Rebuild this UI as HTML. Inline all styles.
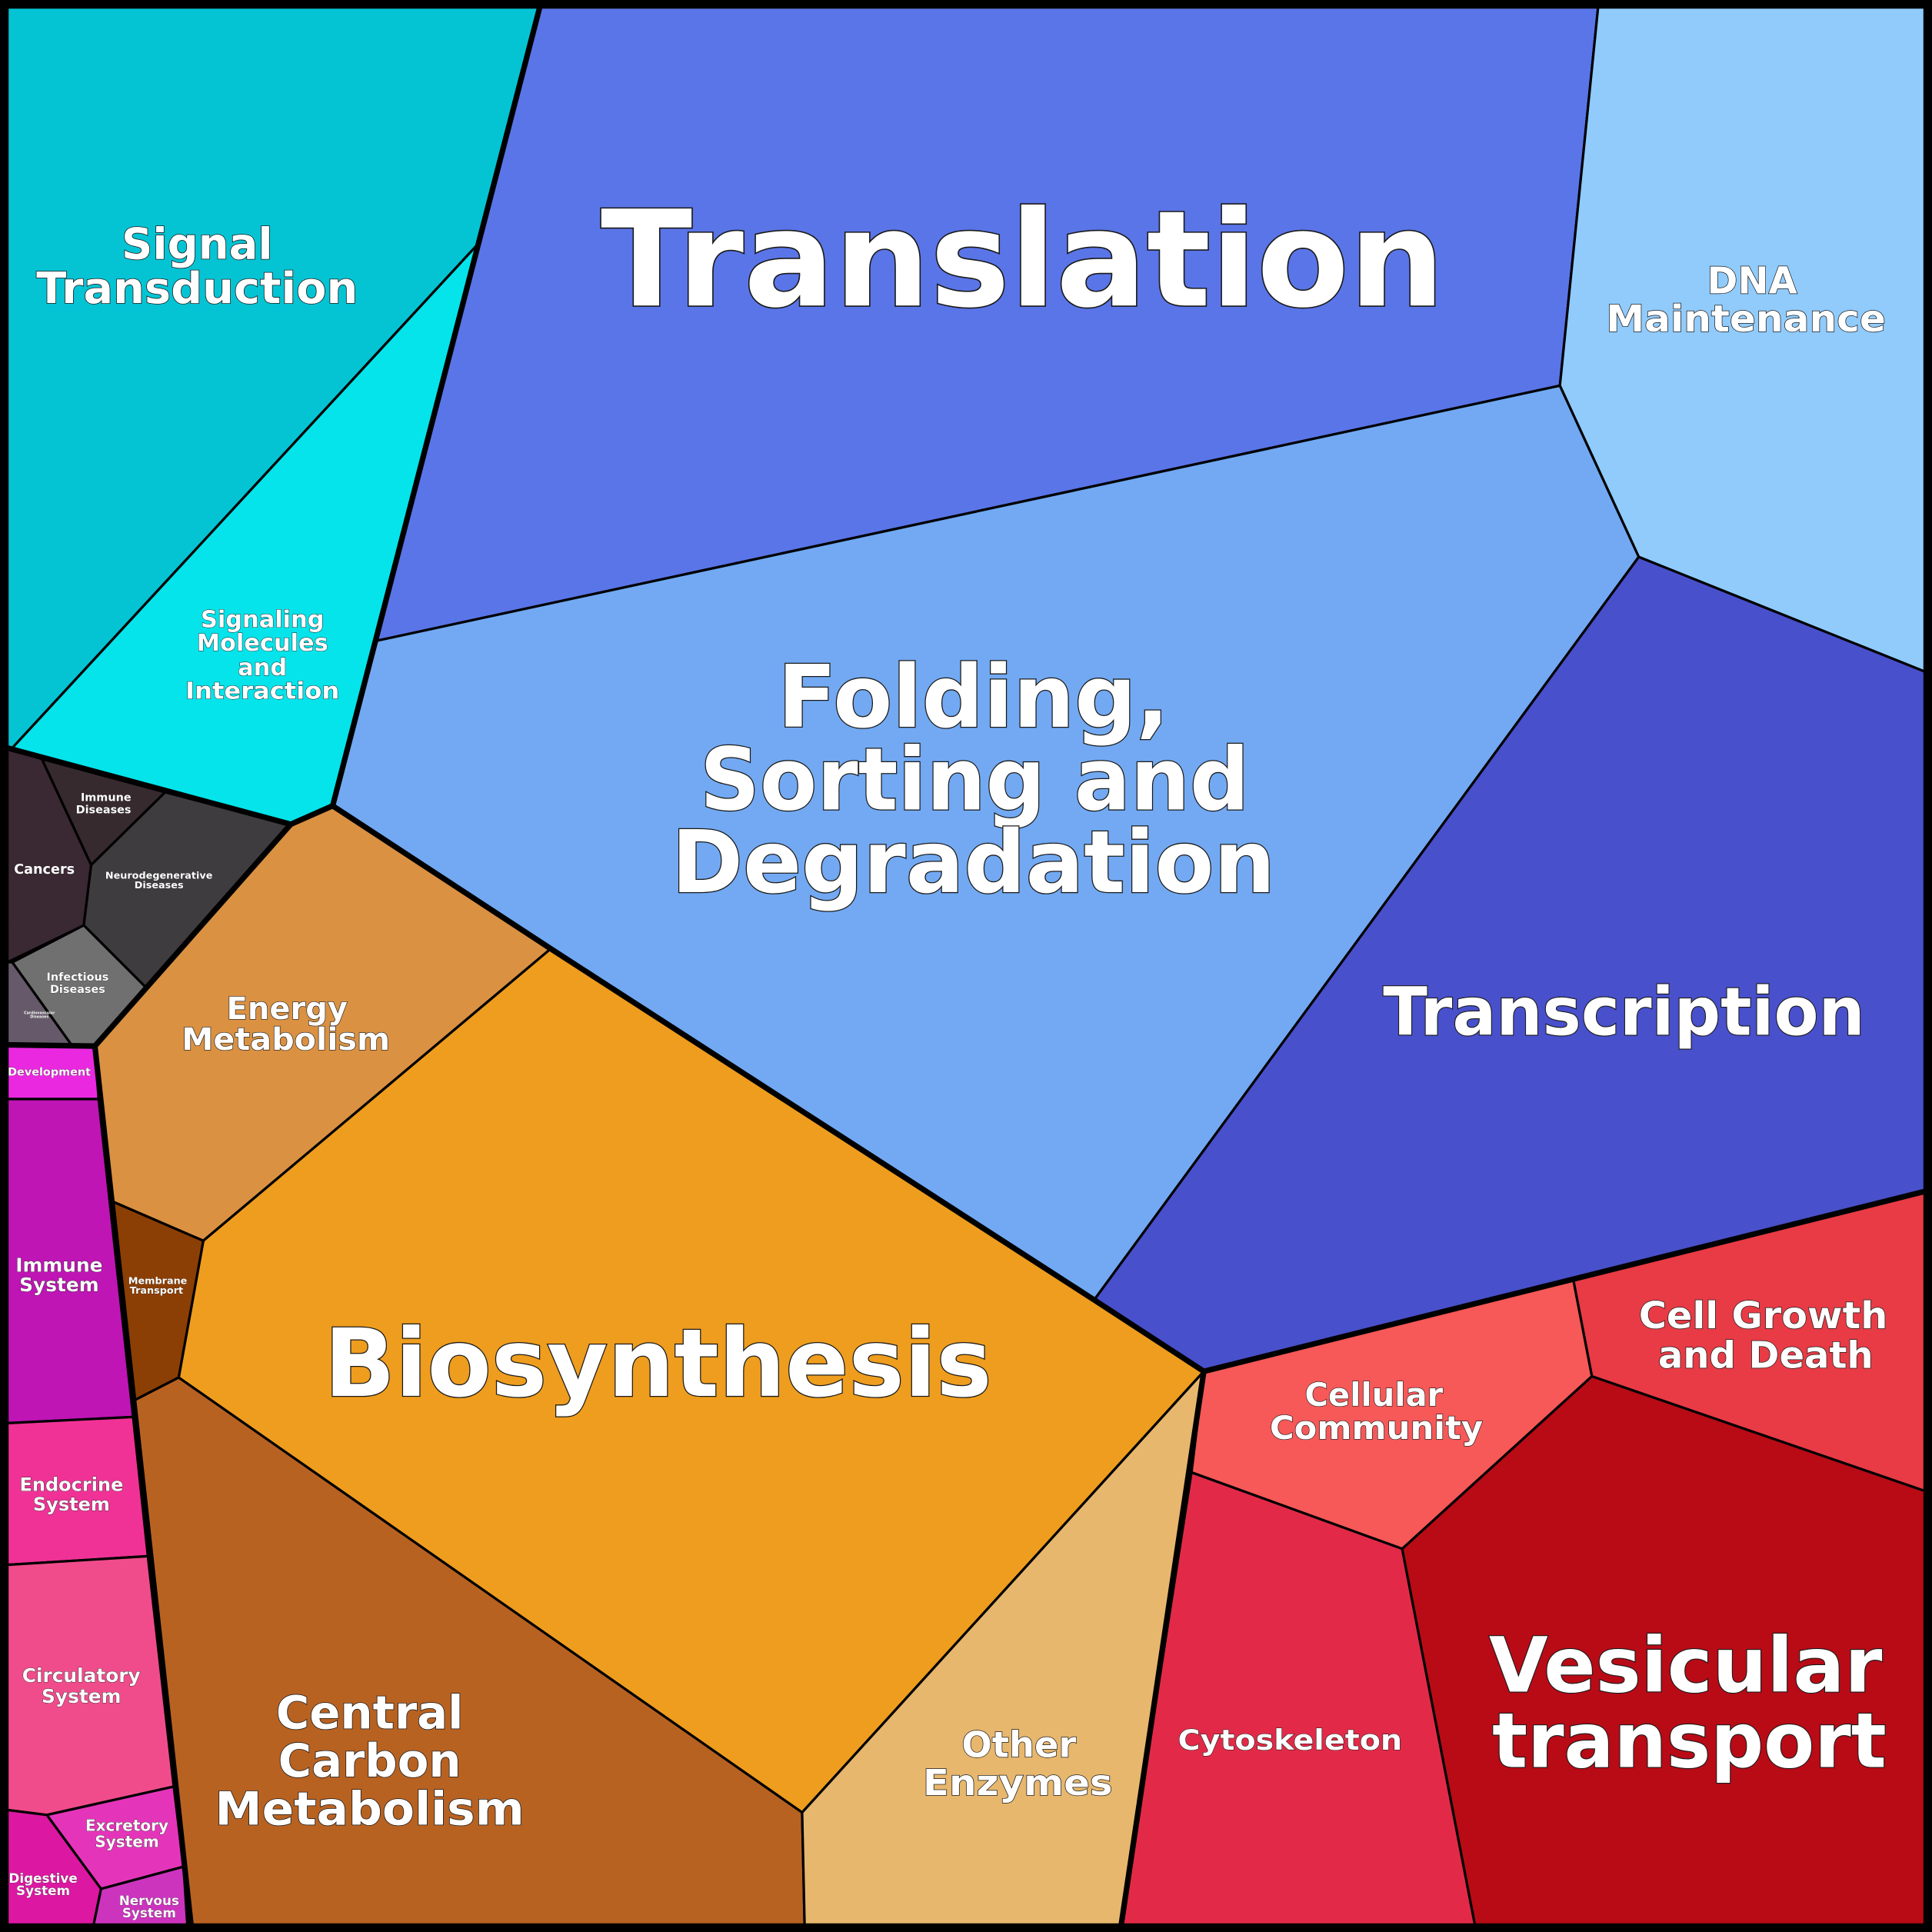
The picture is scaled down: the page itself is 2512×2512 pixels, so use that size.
<!DOCTYPE html>
<html><head><meta charset="utf-8"><style>
html,body{margin:0;padding:0;background:#000;}
svg{display:block;}
text{font-family:"DejaVu Sans","Liberation Sans",sans-serif;font-weight:bold;fill:#fff;stroke:#1a1a1a;paint-order:stroke;text-anchor:middle;}
</style></head><body>
<svg width="2512" height="2512" viewBox="0 0 1568 1568" xmlns="http://www.w3.org/2000/svg">
<rect x="0" y="0" width="1568" height="1568" fill="#000"/>
<g stroke="#000" stroke-width="2" stroke-linejoin="round">
<polygon fill="#04c4d4" points="6,6 438,6 388,198 10,607 6,607"/>
<polygon fill="#04e4ea" points="388,198 270,654 236,669 10,607"/>
<polygon fill="#5a75e8" points="438,6 1297,6 1266,313 306,520 388,198"/>
<polygon fill="#90cbfc" points="1297,6 1562,6 1562,545 1330,452 1266,313"/>
<polygon fill="#72a9f2" points="306,520 1266,313 1330,452 888,1055 447,770 270,654"/>
<polygon fill="#4850cb" points="1330,452 1562,545 1562,967 977,1113 888,1055"/>
<polygon fill="#da9142" points="270,654 447,770 165,1007 91,975 77,849 236,669"/>
<polygon fill="#ee9d1e" points="447,770 888,1055 977,1113 651,1471 145,1118 165,1007"/>
<polygon fill="#8c3f04" points="91,975 165,1007 145,1118 108,1137"/>
<polygon fill="#b86222" points="108,1137 145,1118 651,1471 653,1562 155,1562"/>
<polygon fill="#e7b76e" points="651,1471 977,1113 967,1195 910,1562 653,1562"/>
<polygon fill="#f75858" points="977,1113 1277,1039 1292,1117 1138,1257 967,1195"/>
<polygon fill="#e83b45" points="1277,1039 1562,967 1562,1210 1292,1117"/>
<polygon fill="#e22a48" points="967,1195 1138,1257 1197,1562 910,1562"/>
<polygon fill="#b80b16" points="1138,1257 1292,1117 1562,1210 1562,1562 1197,1562"/>
<polygon fill="#3a2832" points="6,607 34,616 74,702 68,751 6,781"/>
<polygon fill="#372a2e" points="34,616 134,643 74,702"/>
<polygon fill="#3e3c3e" points="134,643 236,669 118,801 68,751 74,702"/>
<polygon fill="#707070" points="68,751 118,801 77,849 58,848 10,781"/>
<polygon fill="#665a6a" points="6,781 10,781 58,848 6,848"/>
<polygon fill="#ea28e0" points="6,848 77,849 80,892 6,892"/>
<polygon fill="#bf15b5" points="6,892 80,892 108,1150 6,1155"/>
<polygon fill="#f03296" points="6,1155 108,1150 120,1263 6,1270"/>
<polygon fill="#f04c8c" points="6,1270 120,1263 141,1450 38,1473 6,1469"/>
<polygon fill="#e435ba" points="38,1473 141,1450 149,1515 82,1533"/>
<polygon fill="#dc18a2" points="6,1469 38,1473 82,1533 76,1562 6,1562"/>
<polygon fill="#cc34be" points="82,1533 149,1515 152,1562 76,1562"/>
</g>
<g stroke="#000" stroke-width="4.5" fill="none" stroke-linejoin="round" stroke-linecap="round">
<polyline points="438,6 270,654 236,669 6,607"/>
<polyline points="270,654 447,770 888,1055 977,1113 1562,967"/>
<polyline points="977,1113 910,1562"/>
<polyline points="236,669 77,849 6,848"/>
<polyline points="77,849 155,1562"/>
</g>
<rect x="3" y="3" width="1562" height="1562" fill="none" stroke="#000" stroke-width="7"/>

<text x="830" y="248" font-size="108" stroke-width="2" textLength="685" lengthAdjust="spacingAndGlyphs">Translation</text>
<text x="790" y="590" font-size="70" stroke-width="1.6">Folding,</text>
<text x="791" y="657" font-size="70" stroke-width="1.6" textLength="446" lengthAdjust="spacingAndGlyphs">Sorting and</text>
<text x="790" y="724" font-size="70" stroke-width="1.6">Degradation</text>
<text x="1318" y="840" font-size="54" stroke-width="1.4" textLength="391" lengthAdjust="spacingAndGlyphs">Transcription</text>
<text x="534" y="1133" font-size="76" stroke-width="1.6" textLength="542" lengthAdjust="spacingAndGlyphs">Biosynthesis</text>
<text x="1368" y="1373" font-size="62" stroke-width="1.4">Vesicular</text>
<text x="1371" y="1434" font-size="62" stroke-width="1.4" textLength="320" lengthAdjust="spacingAndGlyphs">transport</text>
<text x="300" y="1403" font-size="37" stroke-width="1">Central</text>
<text x="300" y="1442" font-size="37" stroke-width="1">Carbon</text>
<text x="300" y="1481" font-size="37" stroke-width="1" textLength="251" lengthAdjust="spacingAndGlyphs">Metabolism</text>
<text x="160" y="210" font-size="35" stroke-width="1">Signal</text>
<text x="160" y="246" font-size="35" stroke-width="1" textLength="261" lengthAdjust="spacingAndGlyphs">Transduction</text>
<text x="1422" y="238" font-size="30" stroke-width="0.9">DNA</text>
<text x="1417" y="269" font-size="30" stroke-width="0.9" textLength="227" lengthAdjust="spacingAndGlyphs">Maintenance</text>
<text x="1431" y="1078" font-size="30" stroke-width="0.9" textLength="202" lengthAdjust="spacingAndGlyphs">Cell Growth</text>
<text x="1433" y="1110" font-size="30" stroke-width="0.9">and Death</text>
<text x="1115" y="1141" font-size="26" stroke-width="0.8">Cellular</text>
<text x="1117" y="1168" font-size="26" stroke-width="0.8" textLength="173" lengthAdjust="spacingAndGlyphs">Community</text>
<text x="827" y="1426" font-size="29" stroke-width="0.9">Other</text>
<text x="826" y="1457" font-size="29" stroke-width="0.9" textLength="154" lengthAdjust="spacingAndGlyphs">Enzymes</text>
<text x="1047" y="1420" font-size="23" stroke-width="0.7" textLength="182" lengthAdjust="spacingAndGlyphs">Cytoskeleton</text>
<text x="233" y="827" font-size="25" stroke-width="0.8">Energy</text>
<text x="232" y="852" font-size="25" stroke-width="0.8" textLength="169" lengthAdjust="spacingAndGlyphs">Metabolism</text>
<text x="213" y="509" font-size="19" stroke-width="0.6">Signaling</text>
<text x="213" y="528" font-size="19" stroke-width="0.6">Molecules</text>
<text x="213" y="548" font-size="19" stroke-width="0.6">and</text>
<text x="213" y="567" font-size="19" stroke-width="0.6" textLength="125" lengthAdjust="spacingAndGlyphs">Interaction</text>
<text x="48" y="1032" font-size="15.5" stroke-width="0.5">Immune</text>
<text x="48" y="1048" font-size="15.5" stroke-width="0.5">System</text>
<text x="58" y="1210" font-size="15" stroke-width="0.5">Endocrine</text>
<text x="58" y="1226" font-size="15" stroke-width="0.5">System</text>
<text x="66" y="1365" font-size="15.5" stroke-width="0.5">Circulatory</text>
<text x="66" y="1382" font-size="15.5" stroke-width="0.5">System</text>
<text x="103" y="1486" font-size="12.5" stroke-width="0.4">Excretory</text>
<text x="103" y="1499" font-size="12.5" stroke-width="0.4">System</text>
<text x="35" y="1528" font-size="10.5" stroke-width="0.3">Digestive</text>
<text x="35" y="1538" font-size="10.5" stroke-width="0.3">System</text>
<text x="121" y="1546" font-size="10.5" stroke-width="0.3">Nervous</text>
<text x="121" y="1556" font-size="10.5" stroke-width="0.3">System</text>
<text x="40" y="873" font-size="9" stroke-width="0.3">Development</text>
<text x="36" y="709" font-size="11" stroke-width="0.3">Cancers</text>
<text x="86" y="650" font-size="9" stroke-width="0.3">Immune</text>
<text x="84" y="660" font-size="9" stroke-width="0.3">Diseases</text>
<text x="129" y="713" font-size="8" stroke-width="0.25">Neurodegenerative</text>
<text x="129" y="721" font-size="8" stroke-width="0.25">Diseases</text>
<text x="63" y="796" font-size="9" stroke-width="0.3">Infectious</text>
<text x="63" y="806" font-size="9" stroke-width="0.3">Diseases</text>
<text x="128" y="1042" font-size="8" stroke-width="0.25">Membrane</text>
<text x="127" y="1050" font-size="8" stroke-width="0.25">Transport</text>
<text x="32" y="823" font-size="3" stroke-width="0.1">Cardiovascular</text>
<text x="32" y="826" font-size="3" stroke-width="0.1">Diseases</text>
</svg>
</body></html>
